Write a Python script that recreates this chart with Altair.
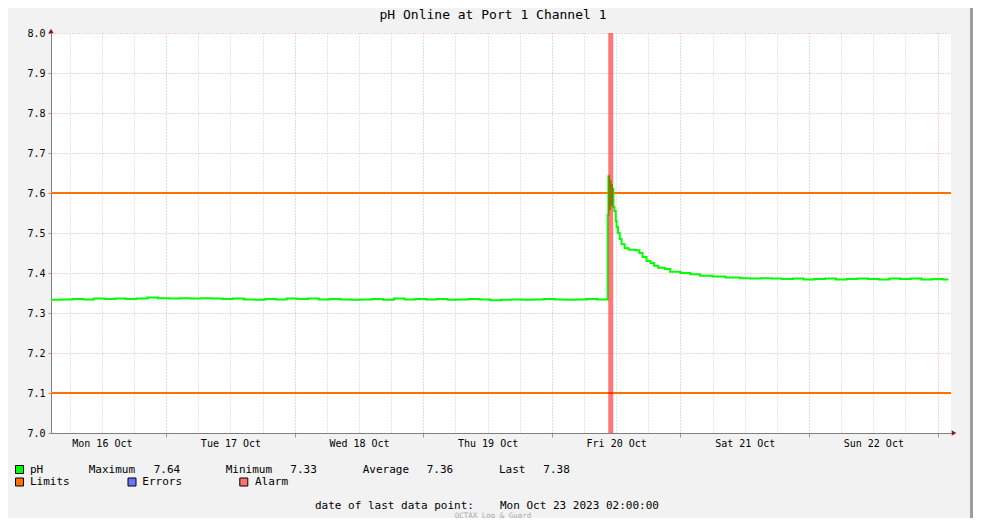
import altair as alt
import pandas as pd

MONO = "DejaVu Sans Mono"

# ---------------- data ----------------
# 2-hourly readings from Mon 16 Oct 02:30 (UTC) up to Fri 20 Oct 08:30
base_values = [
    7.333, 7.334, 7.335, 7.334, 7.336, 7.335, 7.336, 7.335, 7.336, 7.339, 7.337,
    7.336, 7.337, 7.336, 7.337, 7.336, 7.335, 7.336, 7.334, 7.333, 7.335, 7.334, 7.336,
    7.335, 7.336, 7.334, 7.335, 7.334, 7.333, 7.334, 7.335, 7.333, 7.336, 7.334, 7.335,
    7.334, 7.335, 7.333, 7.334, 7.335, 7.334, 7.332, 7.333, 7.334, 7.333, 7.334, 7.335,
    7.334, 7.333, 7.334, 7.335, 7.334,
]
spike_times = [
    "2023-10-20T10:25:00Z", "2023-10-20T10:33:00Z", "2023-10-20T10:41:00Z",
    "2023-10-20T10:49:00Z", "2023-10-20T10:57:00Z", "2023-10-20T11:05:00Z",
    "2023-10-20T11:13:00Z", "2023-10-20T11:21:00Z", "2023-10-20T11:29:00Z",
]
spike_values = [7.545, 7.642, 7.56, 7.63, 7.57, 7.62, 7.58, 7.61, 7.565]
decay_times = [
    "2023-10-20T11:40:00Z", "2023-10-20T11:55:00Z", "2023-10-20T12:05:00Z",
    "2023-10-20T12:20:00Z", "2023-10-20T12:40:00Z", "2023-10-20T13:00:00Z",
    "2023-10-20T13:35:00Z", "2023-10-20T14:20:00Z", "2023-10-20T15:35:00Z",
    "2023-10-20T16:20:00Z", "2023-10-20T16:55:00Z", "2023-10-20T17:40:00Z",
    "2023-10-20T18:25:00Z", "2023-10-20T19:05:00Z", "2023-10-20T19:50:00Z",
    "2023-10-20T21:05:00Z", "2023-10-20T22:05:00Z", "2023-10-21T00:00:00Z",
    "2023-10-21T01:50:00Z", "2023-10-21T03:40:00Z", "2023-10-21T06:00:00Z",
    "2023-10-21T08:25:00Z", "2023-10-21T11:10:00Z",
]
decay_values = [
    7.555, 7.53, 7.515, 7.50, 7.485, 7.472, 7.462, 7.458, 7.457, 7.45, 7.44, 7.43,
    7.425, 7.418, 7.413, 7.41, 7.403, 7.40, 7.397, 7.393, 7.391, 7.389, 7.387,
]
# 2-hourly readings from Sat 21 Oct 13:00 onward
tail_values = [
    7.386, 7.387, 7.386, 7.385, 7.386, 7.384, 7.385, 7.386, 7.384, 7.385,
    7.386, 7.385, 7.384, 7.386, 7.385, 7.386, 7.384, 7.385, 7.384,
]
last_time = "2023-10-23T02:00:00Z"
last_value = 7.384

limits = [7.6, 7.1]
alarm_start = ["2023-10-20T10:31:00Z"]
alarm_end = ["2023-10-20T11:27:00Z"]

legend_names = ["pH", "Limits", "Errors", "Alarm"]
legend_colors = ["#00ff00", "#ff7000", "#7070ff", "#ff7070"]
stat_names = ["Maximum", "Minimum", "Average", "Last"]
stat_values = ["7.64", "7.33", "7.36", "7.38"]
y_ticks = [7.0, 7.1, 7.2, 7.3, 7.4, 7.5, 7.6, 7.7, 7.8, 7.9, 8.0]
title_text = "pH Online at Port 1 Channel 1"
last_point_text = "date of last data point:"
last_point_date = "Mon Oct 23 2023 02:00:00"
footer_text = "OCTAX Log & Guard"


def iso(ts):
    return ts.strftime("%Y-%m-%dT%H:%M:%SZ")


def ms(s):
    return int(pd.Timestamp(s).value // 10**6)


base_times = [iso(t) for t in pd.date_range("2023-10-16 02:30", periods=len(base_values), freq="2h")]
tail_times = [iso(t) for t in pd.date_range("2023-10-21 13:00", periods=len(tail_values), freq="2h")]

df = pd.DataFrame({
    "time": base_times + spike_times + decay_times + tail_times + [last_time],
    "pH": base_values + spike_values + decay_values + tail_values + [last_value],
})

# ---------------- scales & axes ----------------
x_domain = [ms("2023-10-16T02:30:00Z"), ms("2023-10-23T02:30:00Z")]
grid_ticks = [int(t.value // 10**6) for t in
              pd.date_range("2023-10-16 06:00", "2023-10-23 00:00", freq="6h", tz="UTC")]

MAJOR = "#e2aaaa"
MINOR = "#cdcdcd"
midnight = "utchours(datum.value) == 0"

x_scale = alt.Scale(type="utc", domain=x_domain, nice=False)
y_scale = alt.Scale(domain=[7.0, 8.0], nice=False, zero=False)

x_axis = alt.Axis(
    values=grid_ticks,
    labelExpr="utchours(datum.value) == 12 ? utcFormat(datum.value, '%a %d %b') : ''",
    title=None, grid=True, gridDash=[1, 2], gridWidth=1,
    gridColor={"condition": {"test": midnight, "value": MAJOR}, "value": MINOR},
    tickSize=4, tickWidth=1,
    tickColor={"condition": {"test": midnight, "value": "#d98080"}, "value": "transparent"},
    domainColor="#808080", labelFont=MONO, labelFontSize=10, labelColor="black",
    labelPadding=1, labelOverlap=False, labelFlush=False, labelBound=False,
)
y_axis = alt.Axis(
    values=y_ticks, format=".1f", title=None, grid=True, gridDash=[1, 2],
    gridColor=MAJOR, tickSize=3, tickColor="#d98080", domainColor="#808080",
    labelFont=MONO, labelFontSize=10, labelColor="black", labelPadding=3,
)

# ---------------- layers ----------------
limits_chart = alt.Chart(pd.DataFrame({"limit": limits})).mark_rule(
    color="#ff7000", strokeWidth=2
).encode(y=alt.Y("limit:Q", scale=y_scale, axis=y_axis))

line_chart = alt.Chart(df).mark_line(
    interpolate="step-after", color="#00ff00", strokeWidth=2
).encode(
    x=alt.X("time:T", scale=x_scale, axis=x_axis),
    y=alt.Y("pH:Q", scale=y_scale, axis=y_axis),
)

alarm_chart = alt.Chart(pd.DataFrame({"start": alarm_start, "end": alarm_end})).mark_rect(
    color="#ff0000", opacity=0.53
).encode(
    x=alt.X("start:T", scale=x_scale, axis=x_axis),
    x2="end:T",
    y=alt.value(0),
    y2=alt.value(400),
)

dummy = pd.DataFrame({"d": [0]})


def txt(s, x, y, size=11, color="black", align="left"):
    return alt.Chart(dummy).mark_text(
        text=s, align=align, baseline="middle", font=MONO, fontSize=size, color=color
    ).encode(x=alt.value(x), y=alt.value(y))


def square(c, x, y):
    return alt.Chart(dummy).mark_square(
        size=64, fill=c, stroke="black", strokeWidth=1, opacity=1
    ).encode(x=alt.value(x), y=alt.value(y))


deco = []
# arrows at axis ends
deco.append(alt.Chart(dummy).mark_point(shape="triangle-up", filled=True, color="#8b1a1a",
                                        size=28, opacity=1).encode(x=alt.value(0), y=alt.value(-2)))
deco.append(alt.Chart(dummy).mark_point(shape="triangle-right", filled=True, color="#8b1a1a",
                                        size=28, opacity=1).encode(x=alt.value(903), y=alt.value(400)))
# title
deco.append(txt(title_text, 442, -18.5, size=13, align="center"))
# legend
sq_pos = [(-31.5, 436.5), (-31.5, 449), (81, 449), (192.8, 449)]
lab_pos = [(-21, 437), (-21, 449), (91.3, 449), (204, 449)]
for name, col, (sx, sy), (lx, ly) in zip(legend_names, legend_colors, sq_pos, lab_pos):
    deco.append(square(col, sx, sy))
    deco.append(txt(name, lx, ly))
stat_name_x = [37.7, 174.7, 311.7, 448]
stat_val_x = [102.7, 239.3, 375.7, 492.3]
for n, v, nx, vx in zip(stat_names, stat_values, stat_name_x, stat_val_x):
    deco.append(txt(n, nx, 437))
    deco.append(txt(v, vx, 437))
deco.append(txt(last_point_text, 264, 472.5))
deco.append(txt(last_point_date, 449, 472.5))
deco.append(txt(footer_text, 442, 482.5, size=7.5, color="#aaaaaa", align="center"))
# right frame edge
deco.append(alt.Chart(dummy).mark_rule(color="#9c9c9c", strokeWidth=3).encode(
    x=alt.value(920.5), y=alt.value(-25), y2=alt.value(485)))

chart = alt.layer(limits_chart, line_chart, alarm_chart, *deco).properties(
    width=900,
    height=400,
    autosize=alt.AutoSizeParams(type="none"),
    padding={"left": 43, "top": 25, "right": 22, "bottom": 85},
    background="#f2f2f2",
).configure_view(fill="white", strokeWidth=0)

chart.save("out.html", embed_options={"renderer": "svg", "actions": False})
